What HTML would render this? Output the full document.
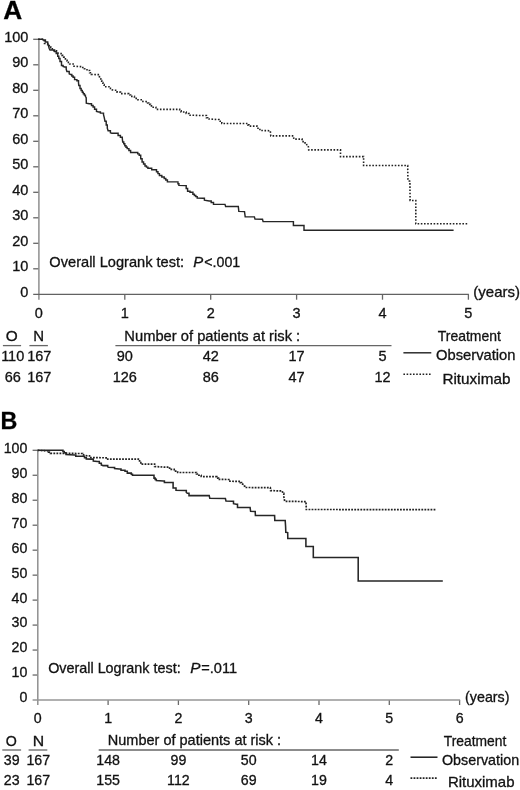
<!DOCTYPE html>
<html><head><meta charset="utf-8"><style>
html,body{margin:0;padding:0;background:#fff;}
body{width:520px;height:790px;overflow:hidden;}
svg{display:block;font-family:"Liberation Sans", sans-serif;will-change:transform;}
text{stroke:#111;stroke-width:0.3px;paint-order:stroke;}
</style></head><body>
<svg width="520" height="790" viewBox="0 0 520 790">
<rect width="520" height="790" fill="#fff"/>
<line x1="33.2" y1="268.8" x2="38.9" y2="268.8" stroke="#666" stroke-width="1.3"/>
<line x1="33.2" y1="243.3" x2="38.9" y2="243.3" stroke="#666" stroke-width="1.3"/>
<line x1="33.2" y1="217.8" x2="38.9" y2="217.8" stroke="#666" stroke-width="1.3"/>
<line x1="33.2" y1="192.3" x2="38.9" y2="192.3" stroke="#666" stroke-width="1.3"/>
<line x1="33.2" y1="166.8" x2="38.9" y2="166.8" stroke="#666" stroke-width="1.3"/>
<line x1="33.2" y1="141.3" x2="38.9" y2="141.3" stroke="#666" stroke-width="1.3"/>
<line x1="33.2" y1="115.8" x2="38.9" y2="115.8" stroke="#666" stroke-width="1.3"/>
<line x1="33.2" y1="90.3" x2="38.9" y2="90.3" stroke="#666" stroke-width="1.3"/>
<line x1="33.2" y1="64.8" x2="38.9" y2="64.8" stroke="#666" stroke-width="1.3"/>
<line x1="33.2" y1="39.3" x2="38.9" y2="39.3" stroke="#666" stroke-width="1.3"/>
<line x1="124.8" y1="294.3" x2="124.8" y2="299.7" stroke="#666" stroke-width="1.3"/>
<line x1="210.7" y1="294.3" x2="210.7" y2="299.7" stroke="#666" stroke-width="1.3"/>
<line x1="296.6" y1="294.3" x2="296.6" y2="299.7" stroke="#666" stroke-width="1.3"/>
<line x1="382.5" y1="294.3" x2="382.5" y2="299.7" stroke="#666" stroke-width="1.3"/>
<line x1="468.4" y1="294.3" x2="468.4" y2="299.7" stroke="#666" stroke-width="1.3"/>
<line x1="38.9" y1="39" x2="38.9" y2="299.7" stroke="#8f8f8f" stroke-width="1.5"/>
<line x1="33.2" y1="294.3" x2="468.9" y2="294.3" stroke="#626262" stroke-width="1.35"/>
<text x="28.4" y="296.7" font-size="14.5" text-anchor="end" fill="#111">0</text>
<text x="28.4" y="271.2" font-size="14.5" text-anchor="end" fill="#111">10</text>
<text x="28.4" y="245.7" font-size="14.5" text-anchor="end" fill="#111">20</text>
<text x="28.4" y="220.2" font-size="14.5" text-anchor="end" fill="#111">30</text>
<text x="28.4" y="194.7" font-size="14.5" text-anchor="end" fill="#111">40</text>
<text x="28.4" y="169.2" font-size="14.5" text-anchor="end" fill="#111">50</text>
<text x="28.4" y="143.7" font-size="14.5" text-anchor="end" fill="#111">60</text>
<text x="28.4" y="118.2" font-size="14.5" text-anchor="end" fill="#111">70</text>
<text x="28.4" y="92.7" font-size="14.5" text-anchor="end" fill="#111">80</text>
<text x="28.4" y="67.2" font-size="14.5" text-anchor="end" fill="#111">90</text>
<text x="28.4" y="41.7" font-size="14.5" text-anchor="end" fill="#111">100</text>
<text x="38.9" y="317.7" font-size="14.5" text-anchor="middle" fill="#111">0</text>
<text x="124.8" y="317.7" font-size="14.5" text-anchor="middle" fill="#111">1</text>
<text x="210.7" y="317.7" font-size="14.5" text-anchor="middle" fill="#111">2</text>
<text x="296.6" y="317.7" font-size="14.5" text-anchor="middle" fill="#111">3</text>
<text x="382.5" y="317.7" font-size="14.5" text-anchor="middle" fill="#111">4</text>
<text x="468.4" y="317.7" font-size="14.5" text-anchor="middle" fill="#111">5</text>
<polyline fill="none" stroke="#262626" stroke-width="1.45" stroke-linejoin="miter" points="38.2,39.3 42.6,39.3 43.1,40 45.4,40 45.4,41.9 47.7,41.9 47.7,43.5 48.5,45.8 49.2,48.5 50,50 52.3,50 54.6,50 54.6,51.5 56.2,51.5 56.2,53.5 57.7,53.5 57.7,56.2 58.8,56.2 58.8,58.5 60,58.5 60,61.5 61.5,61.5 61.5,65.4 63.1,65.4 63.1,66.5 64.6,66.9 66.2,66.9 66.2,69.2 66.9,71.5 69.2,71.5 69.2,73.8 70.5,74.5 71.8,74.5 71.8,75.9 73.1,75.9 73.1,77.3 74.6,77.3 74.6,79.6 76.9,79.6 76.9,80.8 78.5,80.8 78.5,82.7 78.8,85.4 80,85.4 80,88.5 81.15,88.5 81.15,90.4 82.3,90.4 82.3,92.3 83.33,92.3 83.33,93.7 84.37,93.7 84.37,95.1 85.4,95.1 85.4,96.5 86.2,97.7 86.3,103.1 89.2,103.8 91.5,103.8 91.5,105.4 93.1,105.4 93.1,106.9 94.6,106.9 94.6,109.2 96.5,109.2 96.5,111.5 98.8,111.9 100.4,111.9 100.4,113.1 103.5,113.1 103.5,114.6 104.2,117.3 105,121.2 106.2,121.2 106.2,125 107.3,125 107.3,128.1 108.1,130.8 110.4,130.8 110.4,132.7 111.9,133.3 116.5,133.3 118.1,133.3 118.1,135.4 120.4,135.4 120.4,137.3 122.3,137.3 122.3,138.5 122.7,141.9 123.75,141.9 123.75,143.8 124.8,143.8 124.8,145.7 126,145.7 126,147.15 127.2,147.15 127.2,148.6 128.9,148.6 128.9,150.5 130.6,150.5 130.6,152.4 136.3,152.4 137.75,152.4 137.75,153.85 139.2,153.85 139.2,155.3 140.7,155.3 140.7,158.7 142.1,158.7 142.1,162 143.55,162 143.55,163.95 145,163.95 145,165.9 146.45,165.9 146.45,167.1 147.9,167.1 147.9,168.3 151.7,168.3 151.7,169.7 156.5,169.7 156.5,171.7 157.95,171.7 157.95,173.6 159.4,173.6 159.4,175.5 161.8,175.5 161.8,176.95 164.2,176.95 164.2,178.4 165.8,178.4 165.8,180.05 167.4,180.05 167.4,181.7 177,181.9 177.95,181.9 177.95,183.65 178.9,183.65 178.9,185.4 185.2,185.6 186.2,185.6 186.2,188.5 187.6,188.5 187.6,191.3 190,191.3 190,192.3 192.9,192.3 192.9,194.2 194.35,194.2 194.35,195.4 195.8,195.4 195.8,196.6 197.2,196.6 197.2,198.1 203,198.3 204.4,198.3 204.4,200.2 209.2,201 211.2,201 211.2,202.4 213.5,202.4 213.5,204.2 225,204.4 225.6,206.5 238.3,206.5 238.8,211.4 244.5,211.6 245.2,216.8 254.4,216.9 255,219.1 262.5,219.2 263.1,221.6 293.4,221.6 293.4,225.4 304,225.4 304,230.3 453.6,230.3"/>
<polyline fill="none" stroke="#222" stroke-width="1.6" stroke-linejoin="miter" stroke-dasharray="1.6 1.6" points="38.2,39.3 42.6,39.3 43.1,40.8 44.5,40.8 44.5,43.5 47.7,43.5 47.7,44.6 49.25,44.6 49.25,46.15 50.8,46.15 50.8,47.7 52.3,47.7 52.3,49.25 53.8,49.25 53.8,50.8 56.5,50.8 56.5,52.7 60.2,53.6 61.95,53.6 61.95,55.35 63.7,55.35 63.7,57.1 65.4,57.1 65.4,59.05 67.1,59.05 67.1,61 68.4,61 68.4,62.5 69.7,62.5 69.7,64 72.7,64 74,64 74,66.2 79.2,66.6 81.8,66.6 81.8,67.5 84.4,67.5 84.4,68.8 87,68.8 87,70.5 89.6,70.5 89.6,72.7 91.3,72.7 91.3,74.4 96.5,74.6 99.3,74.6 99.3,75.8 99.8,78.7 100.75,78.7 100.75,80.6 101.7,80.6 101.7,82.5 102.9,82.5 102.9,84.65 104.1,84.65 104.1,86.8 107.5,86.8 108.95,86.8 108.95,88.25 110.4,88.25 110.4,89.7 114.2,90.2 117.1,90.2 117.1,92.1 120.5,92.1 120.5,93.6 126.7,93.6 128.65,93.6 128.65,95 130.6,95 130.6,96.4 134.4,96.4 134.4,98.4 137.8,98.4 137.8,99.8 141.2,99.8 141.2,101.3 146.5,101.6 147.6,101.6 147.6,103 148.7,103 148.7,104.4 150.5,104.4 150.5,105.85 152.3,105.85 152.3,107.3 155.9,107.3 155.9,109.4 178.2,109.4 179.65,109.4 179.65,110.7 181.1,110.7 181.1,112 186.2,112 186.2,113.5 189.1,113.5 189.1,115.2 202,115.5 206.4,115.5 206.4,117.8 207.8,117.8 207.8,118.9 213.2,119.2 216.6,119.5 218.9,119.5 218.9,121.2 221.8,121.2 221.8,123.5 246,123.5 247.8,123.5 247.8,124.9 248.9,124.9 248.9,126.1 255.3,126.1 257,126.1 257,128.2 259.9,128.2 259.9,130.5 270.3,130.7 270.8,135.9 293.5,135.9 293.8,139.1 300.2,139.1 302.1,139.1 302.1,140.3 303.1,140.3 303.1,142.9 306.5,142.9 306.9,146.3 308.4,146.8 308.7,149.9 340.5,149.9 340.5,156.6 363.6,156.6 363.6,165.5 407.7,165.5 407.9,180.6 409.9,181.3 410.1,200.4 415.8,200.6 415.8,223.8 467.6,223.8"/>
<line x1="2.9" y1="345.6" x2="21.1" y2="345.6" stroke="#666" stroke-width="1.3"/>
<line x1="29.4" y1="345.6" x2="47.9" y2="345.6" stroke="#666" stroke-width="1.3"/>
<line x1="115.4" y1="345.6" x2="391.5" y2="345.6" stroke="#666" stroke-width="1.3"/>
<text x="12.7" y="360.6" font-size="14.5" text-anchor="middle" fill="#111">110</text>
<text x="39.3" y="360.6" font-size="14.5" text-anchor="middle" fill="#111">167</text>
<text x="124.8" y="360.6" font-size="14.5" text-anchor="middle" fill="#111">90</text>
<text x="210.7" y="360.6" font-size="14.5" text-anchor="middle" fill="#111">42</text>
<text x="296.6" y="360.6" font-size="14.5" text-anchor="middle" fill="#111">17</text>
<text x="382.5" y="360.6" font-size="14.5" text-anchor="middle" fill="#111">5</text>
<text x="12.7" y="381.8" font-size="14.5" text-anchor="middle" fill="#111">66</text>
<text x="39.3" y="381.8" font-size="14.5" text-anchor="middle" fill="#111">167</text>
<text x="124.8" y="381.8" font-size="14.5" text-anchor="middle" fill="#111">126</text>
<text x="210.7" y="381.8" font-size="14.5" text-anchor="middle" fill="#111">86</text>
<text x="296.6" y="381.8" font-size="14.5" text-anchor="middle" fill="#111">47</text>
<text x="382.5" y="381.8" font-size="14.5" text-anchor="middle" fill="#111">12</text>
<line x1="403.4" y1="352.8" x2="431.3" y2="352.8" stroke="#262626" stroke-width="1.45"/>
<line x1="403.4" y1="374.2" x2="431.3" y2="374.2" stroke="#222" stroke-width="1.6" stroke-dasharray="1.6 1.6"/>
<line x1="32.6" y1="675.03" x2="37.8" y2="675.03" stroke="#6a6a6a" stroke-width="1.3"/>
<line x1="32.6" y1="650.06" x2="37.8" y2="650.06" stroke="#6a6a6a" stroke-width="1.3"/>
<line x1="32.6" y1="625.09" x2="37.8" y2="625.09" stroke="#6a6a6a" stroke-width="1.3"/>
<line x1="32.6" y1="600.12" x2="37.8" y2="600.12" stroke="#6a6a6a" stroke-width="1.3"/>
<line x1="32.6" y1="575.15" x2="37.8" y2="575.15" stroke="#6a6a6a" stroke-width="1.3"/>
<line x1="32.6" y1="550.18" x2="37.8" y2="550.18" stroke="#6a6a6a" stroke-width="1.3"/>
<line x1="32.6" y1="525.21" x2="37.8" y2="525.21" stroke="#6a6a6a" stroke-width="1.3"/>
<line x1="32.6" y1="500.24" x2="37.8" y2="500.24" stroke="#6a6a6a" stroke-width="1.3"/>
<line x1="32.6" y1="475.27" x2="37.8" y2="475.27" stroke="#6a6a6a" stroke-width="1.3"/>
<line x1="32.6" y1="450.3" x2="37.8" y2="450.3" stroke="#6a6a6a" stroke-width="1.3"/>
<line x1="108.1" y1="700" x2="108.1" y2="705" stroke="#6a6a6a" stroke-width="1.3"/>
<line x1="178.4" y1="700" x2="178.4" y2="705" stroke="#6a6a6a" stroke-width="1.3"/>
<line x1="248.7" y1="700" x2="248.7" y2="705" stroke="#6a6a6a" stroke-width="1.3"/>
<line x1="319" y1="700" x2="319" y2="705" stroke="#6a6a6a" stroke-width="1.3"/>
<line x1="389.3" y1="700" x2="389.3" y2="705" stroke="#6a6a6a" stroke-width="1.3"/>
<line x1="459.6" y1="700" x2="459.6" y2="705" stroke="#6a6a6a" stroke-width="1.3"/>
<line x1="37.8" y1="450" x2="37.8" y2="705" stroke="#8f8f8f" stroke-width="1.5"/>
<line x1="32.6" y1="700" x2="460.1" y2="700" stroke="#969696" stroke-width="1.6"/>
<text x="27.3" y="702.4" font-size="14.2" text-anchor="end" fill="#111">0</text>
<text x="27.3" y="677.43" font-size="14.2" text-anchor="end" fill="#111">10</text>
<text x="27.3" y="652.46" font-size="14.2" text-anchor="end" fill="#111">20</text>
<text x="27.3" y="627.49" font-size="14.2" text-anchor="end" fill="#111">30</text>
<text x="27.3" y="602.52" font-size="14.2" text-anchor="end" fill="#111">40</text>
<text x="27.3" y="577.55" font-size="14.2" text-anchor="end" fill="#111">50</text>
<text x="27.3" y="552.58" font-size="14.2" text-anchor="end" fill="#111">60</text>
<text x="27.3" y="527.61" font-size="14.2" text-anchor="end" fill="#111">70</text>
<text x="27.3" y="502.64" font-size="14.2" text-anchor="end" fill="#111">80</text>
<text x="27.3" y="477.67" font-size="14.2" text-anchor="end" fill="#111">90</text>
<text x="27.3" y="452.7" font-size="14.2" text-anchor="end" fill="#111">100</text>
<text x="37.8" y="723" font-size="14.2" text-anchor="middle" fill="#111">0</text>
<text x="108.1" y="723" font-size="14.2" text-anchor="middle" fill="#111">1</text>
<text x="178.4" y="723" font-size="14.2" text-anchor="middle" fill="#111">2</text>
<text x="248.7" y="723" font-size="14.2" text-anchor="middle" fill="#111">3</text>
<text x="319" y="723" font-size="14.2" text-anchor="middle" fill="#111">4</text>
<text x="389.3" y="723" font-size="14.2" text-anchor="middle" fill="#111">5</text>
<text x="459.6" y="723" font-size="14.2" text-anchor="middle" fill="#111">6</text>
<polyline fill="none" stroke="#262626" stroke-width="1.55" stroke-linejoin="miter" points="37.6,450.3 61.7,450.3 62.95,450.3 62.95,451.55 64.2,451.55 64.2,452.8 66,452.8 66,454.6 74.6,454.9 75.8,454.9 75.8,456.2 82.6,456.2 84.5,456.2 84.5,457.7 86.3,457.7 86.3,458.9 91.5,459.1 93.3,459.1 93.3,461 97.3,461.5 99.3,461.5 99.3,463.25 101.3,463.25 101.3,465 103.1,465.6 107.7,465.6 107.7,466.7 108.3,467.3 113.5,467.5 114.6,467.5 114.6,468.5 119.2,469 121,469 121,470.2 125,470.2 125,471.3 127.3,471.3 127.3,473.1 131.3,473.1 131.3,474.2 132.5,474.2 132.5,475.2 152.3,475.2 154,475.2 154,478.1 155.15,478.1 155.15,479.35 156.3,479.35 156.3,480.6 163.3,481 164.4,481 164.4,482.5 171.9,482.5 173.1,482.5 173.1,487.9 176,487.9 176,490.2 185.2,490.5 186.3,490.5 186.3,492.5 187.3,493.3 189,493.3 189,495.6 209.2,495.6 209.8,498.3 225.4,498.5 226,501.1 232.3,501.3 233.5,501.3 233.5,503.7 236.3,504.2 237.5,504.2 237.5,507.5 250.1,507.6 250.6,511.3 255.2,511.5 255.4,515.4 274.6,515.5 274.8,520.4 285.2,520.4 285.6,526.5 285.8,532.3 287.7,532.6 287.8,538.5 305.9,538.5 305.9,546.5 313.3,546.5 313.3,557.4 358.2,557.4 358.2,581 442.8,581"/>
<polyline fill="none" stroke="#222" stroke-width="1.7" stroke-linejoin="miter" stroke-dasharray="1.8 1.25" points="37.6,450.3 45.6,450.8 48.5,450.8 48.5,452.2 50.4,452.2 50.4,453.3 79.5,453.5 82.6,453.5 82.6,454.6 85,455.5 87.5,455.8 89.5,455.8 89.5,457.6 106.5,457.8 107.7,457.8 107.7,459.2 137.1,459.2 138.33,459.2 138.33,460.87 139.57,460.87 139.57,462.53 140.8,462.53 140.8,464.2 151.2,464.2 154.6,464.2 154.6,466.5 163.8,467.1 169.6,467.1 169.6,469.4 174.2,469.4 174.2,471.2 177.7,471.2 177.7,472.5 194.2,472.5 196.5,472.5 196.5,474 198.85,474 198.85,475.25 201.2,475.25 201.2,476.5 215,476.7 216.75,476.7 216.75,478.05 218.5,478.05 218.5,479.4 227.7,479.5 228.8,479.5 228.8,481.2 239.2,481.4 240.35,481.4 240.35,482.6 241.5,482.6 241.5,483.8 244.3,484.7 244.8,487.5 270.3,487.6 270.6,490.6 282.3,491 282.8,493.4 283.8,493.4 283.8,496.3 284.7,501.3 306,501.6 306.3,509.5 435.8,509.6"/>
<line x1="2.3" y1="750" x2="21.1" y2="750" stroke="#666" stroke-width="1.3"/>
<line x1="28.6" y1="750" x2="47.3" y2="750" stroke="#666" stroke-width="1.3"/>
<line x1="98.7" y1="750" x2="398.8" y2="750" stroke="#666" stroke-width="1.3"/>
<text x="11.7" y="764.6" font-size="14.2" text-anchor="middle" fill="#111">39</text>
<text x="38.3" y="764.6" font-size="14.2" text-anchor="middle" fill="#111">167</text>
<text x="108.1" y="764.6" font-size="14.2" text-anchor="middle" fill="#111">148</text>
<text x="178.4" y="764.6" font-size="14.2" text-anchor="middle" fill="#111">99</text>
<text x="248.7" y="764.6" font-size="14.2" text-anchor="middle" fill="#111">50</text>
<text x="319" y="764.6" font-size="14.2" text-anchor="middle" fill="#111">14</text>
<text x="389.3" y="764.6" font-size="14.2" text-anchor="middle" fill="#111">2</text>
<text x="11.7" y="785.2" font-size="14.2" text-anchor="middle" fill="#111">23</text>
<text x="38.3" y="785.2" font-size="14.2" text-anchor="middle" fill="#111">167</text>
<text x="108.1" y="785.2" font-size="14.2" text-anchor="middle" fill="#111">155</text>
<text x="178.4" y="785.2" font-size="14.2" text-anchor="middle" fill="#111">112</text>
<text x="248.7" y="785.2" font-size="14.2" text-anchor="middle" fill="#111">69</text>
<text x="319" y="785.2" font-size="14.2" text-anchor="middle" fill="#111">19</text>
<text x="389.3" y="785.2" font-size="14.2" text-anchor="middle" fill="#111">4</text>
<line x1="410.5" y1="757.2" x2="437.5" y2="757.2" stroke="#262626" stroke-width="1.55"/>
<line x1="410.5" y1="778.1" x2="437.5" y2="778.1" stroke="#222" stroke-width="1.7" stroke-dasharray="1.8 1.25"/>
<text x="473.37" y="296.6" font-size="14.5" fill="#111" textLength="46.59" lengthAdjust="spacingAndGlyphs">(years)</text>
<text x="3.37" y="19.3" font-size="25.5" font-weight="bold" fill="#000" textLength="18.96" lengthAdjust="spacingAndGlyphs">A</text>
<text x="49.39" y="266.6" font-size="14.5" fill="#111" textLength="134.71" lengthAdjust="spacingAndGlyphs">Overall Logrank test:</text>
<text x="193.2" y="266.6" font-size="14.5" font-style="italic" fill="#111" textLength="9.96" lengthAdjust="spacingAndGlyphs">P</text>
<text x="204.32" y="266.6" font-size="14.5" fill="#111" textLength="35.97" lengthAdjust="spacingAndGlyphs">&lt;.001</text>
<text x="5.84" y="341.3" font-size="14.5" fill="#111" textLength="11.96" lengthAdjust="spacingAndGlyphs">O</text>
<text x="33.27" y="341.3" font-size="14.5" fill="#111" textLength="10.83" lengthAdjust="spacingAndGlyphs">N</text>
<text x="124.39" y="341" font-size="14.5" fill="#111" textLength="175.8" lengthAdjust="spacingAndGlyphs">Number of patients at risk :</text>
<text x="437.8" y="341" font-size="14.5" fill="#111" textLength="63.06" lengthAdjust="spacingAndGlyphs">Treatment</text>
<text x="435.98" y="360.4" font-size="14.5" fill="#111" textLength="79.52" lengthAdjust="spacingAndGlyphs">Observation</text>
<text x="442.45" y="383.6" font-size="14.5" fill="#111" textLength="67.95" lengthAdjust="spacingAndGlyphs">Rituximab</text>
<text x="465.1" y="701.9" font-size="14.2" fill="#111" textLength="44.36" lengthAdjust="spacingAndGlyphs">(years)</text>
<text x="0.38" y="429.4" font-size="24.3" font-weight="bold" fill="#000" textLength="16.84" lengthAdjust="spacingAndGlyphs">B</text>
<text x="48.19" y="672.6" font-size="14.2" fill="#111" textLength="132.43" lengthAdjust="spacingAndGlyphs">Overall Logrank test:</text>
<text x="190.2" y="672.6" font-size="14.2" font-style="italic" fill="#111" textLength="10.23" lengthAdjust="spacingAndGlyphs">P</text>
<text x="201.27" y="672.6" font-size="14.2" fill="#111" textLength="35.81" lengthAdjust="spacingAndGlyphs">=.011</text>
<text x="5.7" y="745.6" font-size="14.2" fill="#111" textLength="11.05" lengthAdjust="spacingAndGlyphs">O</text>
<text x="32.69" y="745.6" font-size="14.2" fill="#111" textLength="11.4" lengthAdjust="spacingAndGlyphs">N</text>
<text x="107.78" y="745.4" font-size="14.2" fill="#111" textLength="173.39" lengthAdjust="spacingAndGlyphs">Number of patients at risk :</text>
<text x="443.8" y="745.6" font-size="14.2" fill="#111" textLength="62.44" lengthAdjust="spacingAndGlyphs">Treatment</text>
<text x="441.99" y="764.6" font-size="14.2" fill="#111" textLength="77.11" lengthAdjust="spacingAndGlyphs">Observation</text>
<text x="447.95" y="787" font-size="14.2" fill="#111" textLength="66.54" lengthAdjust="spacingAndGlyphs">Rituximab</text>
</svg>
</body></html>
